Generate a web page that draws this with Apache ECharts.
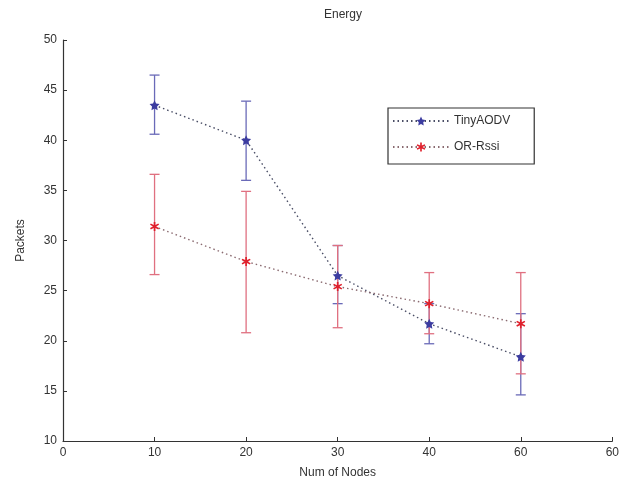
<!DOCTYPE html>
<html>
<head>
<meta charset="utf-8">
<script src="https://cdn.jsdelivr.net/npm/echarts@6/dist/echarts.min.js"></script>
<style>html,body{margin:0;padding:0;background:#fff;}#c{width:622px;height:485px;}</style>
</head>
<body>
<div id="c"></div>
<script>
var nodes = [10, 20, 30, 40, 50];
var xTickLabels = ['0', '10', '20', '30', '40', '60', '60'];
var tinyMean = [43.5, 40.0, 26.5, 21.7, 18.4];
var tinyHigh = [46.5, 43.9, 29.5, 23.7, 22.7];
var tinyLow  = [40.6, 36.0, 23.7, 19.7, 14.6];
var rssiMean = [31.4, 27.9, 25.4, 23.7, 21.7];
var rssiHigh = [36.6, 34.9, 29.5, 26.8, 26.8];
var rssiLow  = [26.6, 20.8, 21.3, 20.7, 16.7];

var BLUE = '#3c3ca0', BLUE_BAR = '#6a6ab8';
var RED = '#e0202c', RED_BAR = '#e07080';
var FONT = 'Liberation Sans';

function errData(low, high) {
  return nodes.map(function (x, i) { return [x, low[i], high[i]]; });
}
function errSeries(low, high, color, name) {
  return {
    type: 'custom',
    name: name + '-err',
    data: errData(low, high),
    silent: true,
    z: 2,
    encode: { x: 0, y: [1, 2] },
    renderItem: function (params, api) {
      var x = api.value(0);
      var lo = api.coord([x, api.value(1)]);
      var hi = api.coord([x, api.value(2)]);
      var w = 5;
      var st = { stroke: color, lineWidth: 1.3 };
      return {
        type: 'group',
        children: [
          { type: 'line', shape: { x1: lo[0], y1: lo[1], x2: hi[0], y2: hi[1] }, style: st },
          { type: 'line', shape: { x1: lo[0] - w, y1: lo[1], x2: lo[0] + w, y2: lo[1] }, style: st },
          { type: 'line', shape: { x1: hi[0] - w, y1: hi[1], x2: hi[0] + w, y2: hi[1] }, style: st }
        ]
      };
    }
  };
}
function pts(vals) { return nodes.map(function (x, i) { return [x, vals[i]]; }); }

var star = 'path://M0,-10 L2.9,-4 L9.5,-3.1 L4.8,1.5 L5.9,8.1 L0,5 L-5.9,8.1 L-4.8,1.5 L-9.5,-3.1 L-2.9,-4 Z';
var aster = 'path://M-1.8,-10 L1.8,-10 L1.8,-3.2 L8,-6.5 L9.6,-3.6 L3.4,0 L9.6,3.6 L8,6.5 L1.8,3.2 L1.8,10 L-1.8,10 L-1.8,3.2 L-8,6.5 L-9.6,3.6 L-3.4,0 L-9.6,-3.6 L-8,-6.5 L-1.8,-3.2 Z';

var chart = echarts.init(document.getElementById('c'), null, { renderer: 'canvas' });
chart.setOption({
  backgroundColor: '#fff',
  animation: false,
  title: {
    text: 'Energy', left: 338, textAlign: 'center', top: 4,
    textStyle: { fontFamily: FONT, fontSize: 12, fontWeight: 'normal', color: '#333' }
  },
  grid: { left: 63, right: 9, top: 40, bottom: 44 },
  legend: {
    orient: 'vertical', left: 388, top: 108,
    data: ['TinyAODV', 'OR-Rssi'],
    itemWidth: 56, itemHeight: 11, itemGap: 14,
    padding: [7, 24, 11, 4],
    borderColor: '#333', borderWidth: 1.2, backgroundColor: '#fff',
    textStyle: { fontFamily: FONT, fontSize: 12, color: '#333', padding: [0, 0, 0, 0] }
  },
  xAxis: {
    type: 'value', min: 0, max: 60, interval: 10,
    name: 'Num of Nodes', nameLocation: 'middle', nameGap: 26,
    nameTextStyle: { fontFamily: FONT, fontSize: 12, color: '#333' },
    axisLine: { lineStyle: { color: '#333', width: 1.2 } },
    axisTick: { inside: true, length: 4, lineStyle: { color: '#333' } },
    axisLabel: { fontFamily: FONT, fontSize: 12, color: '#333', margin: 6,
      formatter: function (v) { return xTickLabels[Math.round(v / 10)]; } },
    splitLine: { show: false }
  },
  yAxis: {
    type: 'value', min: 10, max: 50, interval: 5,
    name: 'Packets', nameLocation: 'middle', nameGap: 36, nameRotate: 90,
    nameTextStyle: { fontFamily: FONT, fontSize: 12, color: '#333' },
    axisLine: { show: true, lineStyle: { color: '#333', width: 1.2 } },
    axisTick: { show: true, inside: true, length: 4, lineStyle: { color: '#333' } },
    axisLabel: { fontFamily: FONT, fontSize: 12, color: '#333', margin: 6 },
    splitLine: { show: false }
  },
  series: [
    errSeries(tinyLow, tinyHigh, BLUE_BAR, 'TinyAODV'),
    errSeries(rssiLow, rssiHigh, RED_BAR, 'OR-Rssi'),
    {
      name: 'TinyAODV', type: 'line', data: pts(tinyMean), z: 3,
      symbol: star, symbolSize: 10,
      itemStyle: { color: BLUE },
      lineStyle: { color: '#4a4e66', width: 1.4, type: [1.5, 3] }
    },
    {
      name: 'OR-Rssi', type: 'line', data: pts(rssiMean), z: 3,
      symbol: aster, symbolSize: 9,
      itemStyle: { color: RED },
      lineStyle: { color: '#8a6a70', width: 1.4, type: [1.5, 3] }
    }
  ]
});
</script>
</body>
</html>
